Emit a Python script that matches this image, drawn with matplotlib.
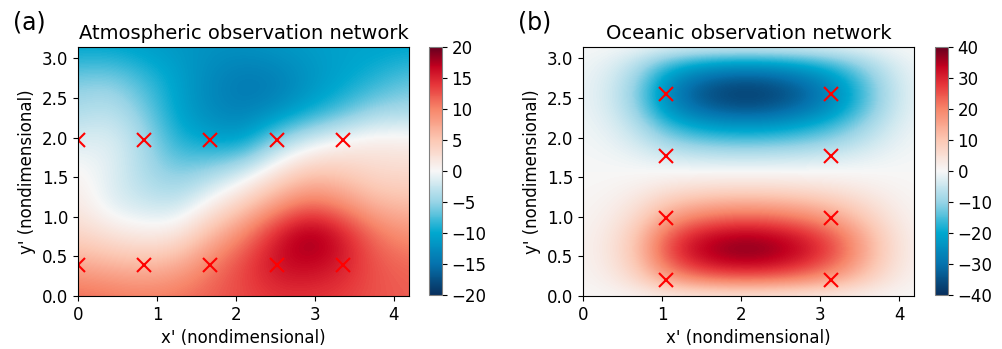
import numpy as np
import matplotlib
matplotlib.use("Agg")
import matplotlib.pyplot as plt
from matplotlib.colors import LinearSegmentedColormap

# domain: x' in [0, 2*pi/n] with n = 1.5, y' in [0, pi]
x_max = 2 * np.pi / 1.5
y_max = np.pi

# atmospheric field (rows: y' from 0 to pi, cols: x' from 0 to x_max)
atm_x = np.linspace(0, x_max, 11)
atm_y = np.linspace(0, y_max, 9)
atm_field = np.array([
    [11.5, 11.0, 10.5, 11.0, 12.0, 13.0, 14.0, 14.0, 13.5, 12.5, 12.0],
    [7.5, 6.5, 6.0, 7.0, 10.5, 13.5, 16.5, 17.0, 15.5, 12.5, 11.5],
    [3.5, 2.0, 1.0, 1.5, 6.0, 10.0, 15.5, 19.5, 16.0, 11.0, 9.0],
    [1.5, -1.5, -2.5, -3.0, 0.5, 4.0, 8.0, 11.0, 9.0, 6.0, 5.5],
    [0.5, -1.0, -4.0, -6.0, -4.5, -2.0, 2.0, 5.0, 4.5, 3.0, 3.0],
    [-1.5, -1.0, -4.0, -9.0, -10.5, -11.0, -5.0, -1.5, 0.5, 1.5, 1.0],
    [-4.0, -3.0, -6.0, -10.5, -13.0, -14.0, -13.0, -10.5, -8.0, -5.0, -4.5],
    [-6.0, -5.5, -8.0, -10.5, -13.0, -14.5, -14.0, -12.0, -10.5, -9.0, -7.0],
    [-10.5, -10.5, -11.0, -11.5, -12.0, -12.0, -11.5, -11.0, -10.5, -10.5, -10.5],
])

# oceanic field: peak value and profiles read along y'=0.55 and x'=2.1
ocn_peak = 38.0
ocn_x = np.linspace(0, x_max, 13)
ocn_x_profile = [0.03, 0.10, 0.30, 0.66, 0.87, 0.97, 1.0, 0.96, 0.86, 0.70, 0.46, 0.20, 0.04]
ocn_y = np.linspace(0, y_max, 17)
ocn_y_profile = [0.08, 0.56, 0.88, 1.0, 0.90, 0.63, 0.38, 0.15, 0.0,
                 -0.15, -0.38, -0.63, -0.90, -1.0, -0.88, -0.56, -0.08]

# observation sites
atm_obs_x = [0, 0.838, 1.676, 2.513, 3.351] * 2
atm_obs_y = [0.393] * 5 + [1.963] * 5
ocn_obs_x = [1.047] * 4 + [3.142] * 4
ocn_obs_y = [0.196, 0.982, 1.767, 2.553] * 2

cmap = LinearSegmentedColormap.from_list("obs_div", [
    (0.0, "#08305e"),
    (0.125, "#0573ae"),
    (0.25, "#00a8cf"),
    (0.375, "#98d4e6"),
    (0.5, "#f7f7f7"),
    (0.625, "#fcc8b4"),
    (0.75, "#f7866a"),
    (0.85, "#e6363a"),
    (0.925, "#c2001f"),
    (1.0, "#67001f"),
])


def half_cell_extent(xs, ys):
    dx = xs[1] - xs[0]
    dy = ys[1] - ys[0]
    return (xs[0] - dx / 2, xs[-1] + dx / 2, ys[0] - dy / 2, ys[-1] + dy / 2)


fig = plt.figure(figsize=(10.02, 3.49), dpi=100)
ax_a = fig.add_axes([0.0778, 0.152, 0.3303, 0.713])
cax_a = fig.add_axes([0.428, 0.155, 0.013, 0.710])
ax_b = fig.add_axes([0.5818, 0.152, 0.3303, 0.713])
cax_b = fig.add_axes([0.933, 0.155, 0.013, 0.710])

ocn_field = ocn_peak * np.outer(ocn_y_profile, ocn_x_profile)

panels = [
    (ax_a, cax_a, atm_field, atm_x, atm_y, 20, 5, atm_obs_x, atm_obs_y,
     "Atmospheric observation network", "(a)"),
    (ax_b, cax_b, ocn_field, ocn_x, ocn_y, 40, 10, ocn_obs_x, ocn_obs_y,
     "Oceanic observation network", "(b)"),
]

for ax, cax, field, xs, ys, vlim, step, ox, oy, title, tag in panels:
    im = ax.imshow(field, origin="lower", extent=half_cell_extent(xs, ys),
                   cmap=cmap, vmin=-vlim, vmax=vlim, aspect="auto",
                   interpolation="bicubic")
    ax.plot(ox, oy, "x", color="red", markersize=10, mew=1.5, linestyle="none")
    ax.set_xlim(0, x_max)
    ax.set_ylim(0, y_max)
    ax.set_xticks([0, 1, 2, 3, 4])
    ax.set_yticks(np.arange(0, 3.01, 0.5))
    ax.tick_params(labelsize=12)
    ax.set_xlabel("x' (nondimensional)", fontsize=12)
    ax.set_ylabel("y' (nondimensional)", fontsize=12)
    ax.set_title(title, fontsize=14)
    cb = fig.colorbar(im, cax=cax, ticks=np.arange(-vlim, vlim + 1, step))
    cb.ax.tick_params(labelsize=12)
    cb.outline.set_edgecolor("gray")
    pos = ax.get_position()
    fig.text(pos.x0 - 0.065, 0.915, tag, fontsize=17)

fig.savefig("out.png", dpi=100)
